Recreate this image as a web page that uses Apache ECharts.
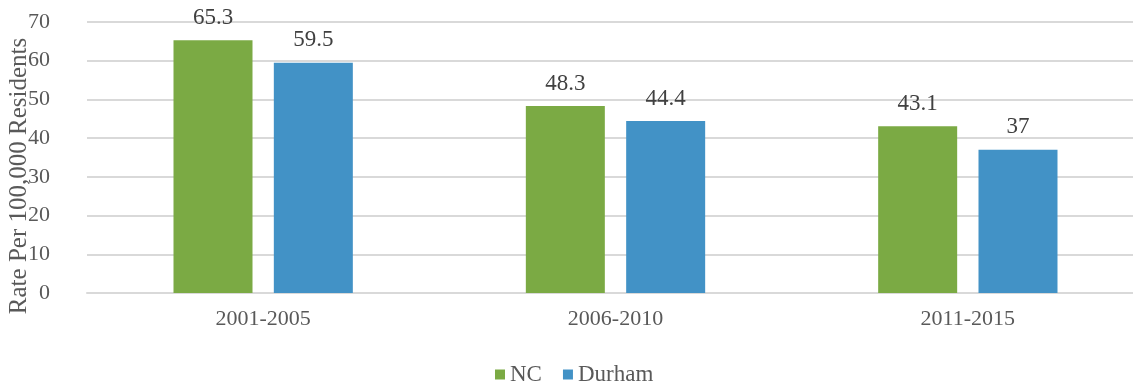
<!DOCTYPE html>
<html><head><meta charset="utf-8">
<script src="https://cdn.jsdelivr.net/npm/echarts@6/dist/echarts.min.js"></script>
<style>html,body{margin:0;padding:0;background:#fff}#c{width:1133px;height:385px}</style>
</head><body><div id="c"></div>
<script>
const categories = ['2001-2005', '2006-2010', '2011-2015'];
const ncValues = [65.3, 48.3, 43.1];
const durhamValues = [59.5, 44.4, 37];
const yTicks = [0, 10, 20, 30, 40, 50, 60, 70];

const FONT = '"Liberation Serif", "Times New Roman", serif';
const chart = echarts.init(document.getElementById('c'), null, {renderer: 'canvas'});
const labelStyle = {show: true, position: 'top', distance: 11, color: '#404040', fontFamily: FONT, fontSize: 23};
chart.setOption({
  animation: false,
  textStyle: {fontFamily: FONT},
  grid: {left: 87, top: 22, width: 1057, height: 271, containLabel: false, outerBoundsMode: 'none'},
  legend: {
    data: ['NC', 'Durham'], top: 358, left: 490,
    itemWidth: 10, itemHeight: 10, itemGap: 21, icon: 'rect',
    textStyle: {fontFamily: FONT, fontSize: 23, color: '#595959'}
  },
  xAxis: {
    type: 'category', data: categories,
    axisLine: {lineStyle: {color: '#D9D9D9', width: 2}},
    axisTick: {show: false},
    axisLabel: {color: '#595959', fontFamily: FONT, fontSize: 22, margin: 15}
  },
  yAxis: {
    type: 'value', min: yTicks[0], max: yTicks[yTicks.length - 1], interval: 10,
    axisLine: {show: false}, axisTick: {show: false},
    splitLine: {lineStyle: {color: '#D9D9D9', width: 2}},
    axisLabel: {color: '#595959', fontFamily: FONT, fontSize: 22, margin: 37}
  },
  graphic: [{
    type: 'text',
    style: {text: 'Rate Per 100,000 Residents', fill: '#595959', font: '25px ' + FONT, align: 'center', verticalAlign: 'middle'},
    x: 19, y: 176, rotation: Math.PI / 2
  }],
  series: [
    {name: 'NC', type: 'bar', data: ncValues, barWidth: 79, barGap: '27%',
     itemStyle: {color: '#7BAA44'}, label: labelStyle},
    {name: 'Durham', type: 'bar', data: durhamValues, barWidth: 79,
     itemStyle: {color: '#4292C6'}, label: labelStyle}
  ]
});
</script></body></html>
